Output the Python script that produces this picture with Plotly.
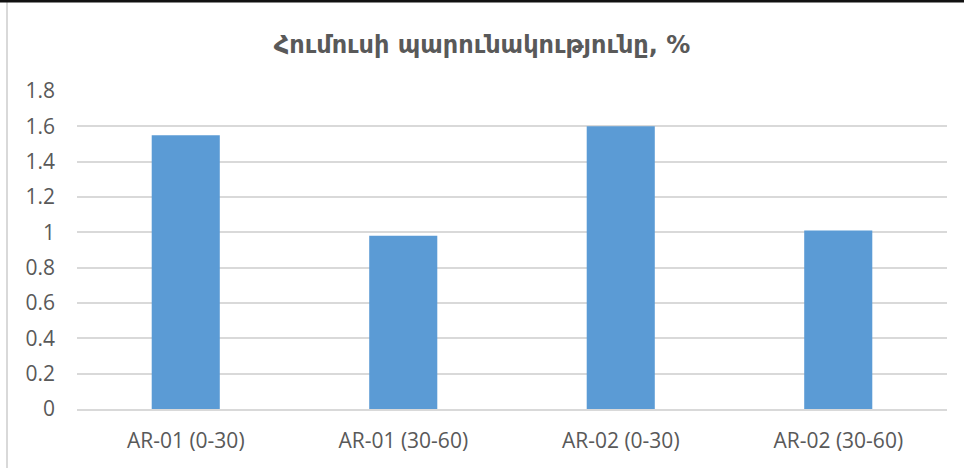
import plotly.graph_objects as go

categories = ["AR-01 (0-30)", "AR-01 (30-60)", "AR-02 (0-30)", "AR-02 (30-60)"]
humus = [1.55, 0.98, 1.60, 1.01]
tick_vals = [0, 0.2, 0.4, 0.6, 0.8, 1.0, 1.2, 1.4, 1.6, 1.8]
tick_text = ["0", "0.2", "0.4", "0.6", "0.8", "1", "1.2", "1.4", "1.6", "1.8"]
title_text = "Հումուսի պարունակությունը, %"

W, H = 964, 468
ml, mr, mt, mb = 77, 17, 91, 59
pw = W - ml - mr
ph = H - mt - mb

fig = go.Figure(go.Bar(x=categories, y=humus, marker=dict(color="#5b9bd5", line=dict(width=0))))

fig.update_layout(
    width=W, height=H,
    margin=dict(l=ml, r=mr, t=mt, b=mb),
    paper_bgcolor="white", plot_bgcolor="white",
    bargap=0.687,
    showlegend=False,
    title=dict(text="<b>" + title_text + "</b>", x=0.5, xanchor="center", y=(H - 45) / H, yanchor="middle",
               font=dict(family="DejaVu Sans", size=24, color="#595959", weight="bold")),
    font=dict(family="Open Sans", size=21, color="#595959"),
)
fig.update_yaxes(range=[0, 1.8], tickvals=tick_vals, ticktext=tick_text, showgrid=True,
                 gridcolor="#d9d9d9", gridwidth=1.5, zeroline=False, showline=False,
                 ticks="", ticklabelstandoff=21, tickfont=dict(size=21))
fig.update_xaxes(showline=True, linecolor="#d9d9d9", linewidth=1.5, ticks="",
                 ticklabelstandoff=12, tickfont=dict(size=21))

# chart frame edges visible in the screenshot
x_left = (7 - ml) / pw
y_top = (mt + ph) / ph
fig.add_shape(type="line", xref="paper", yref="paper", x0=x_left, x1=x_left, y0=-mb / ph, y1=y_top,
              line=dict(color="#d9d9d9", width=2))
fig.add_shape(type="line", xref="paper", yref="paper", x0=-ml / pw, x1=(pw + mr) / pw,
              y0=y_top - 1 / ph, y1=y_top - 1 / ph, line=dict(color="#111111", width=3))

fig.write_html("out.html")
